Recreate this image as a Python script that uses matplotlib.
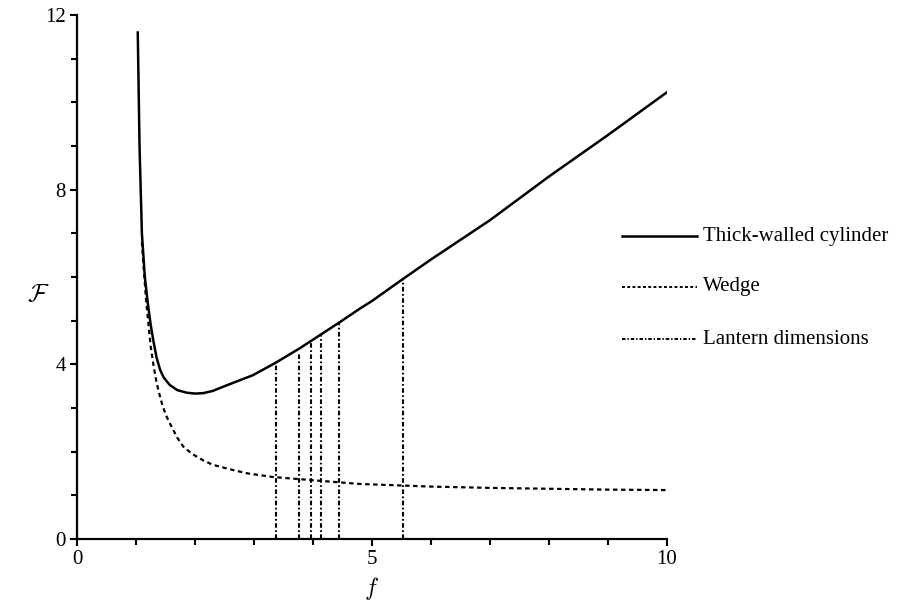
import numpy as np
import matplotlib
matplotlib.use("Agg")
import matplotlib.pyplot as plt
from matplotlib.ticker import MultipleLocator

plt.rcParams['font.family'] = ['Liberation Serif', 'DejaVu Serif']
plt.rcParams['mathtext.fontset'] = 'cm'

# Thick-walled cylinder curve
cyl_f = [1.03, 1.06, 1.10, 1.15, 1.20, 1.25, 1.30, 1.35, 1.41, 1.47, 1.57, 1.70,
         1.86, 2.00, 2.14, 2.30, 2.54, 2.75, 2.98, 3.36, 3.78, 4.12, 4.46, 4.80,
         5.0, 5.5, 6.0, 7.0, 8.0, 9.0, 10.0]
cyl_F = [11.6, 9.0, 7.0, 6.0, 5.4, 4.9, 4.5, 4.15, 3.87, 3.70, 3.53, 3.41,
         3.35, 3.33, 3.34, 3.39, 3.52, 3.63, 3.75, 4.03, 4.37, 4.67, 4.97, 5.28,
         5.45, 5.93, 6.4, 7.3, 8.3, 9.25, 10.23]

# Wedge curve
wedge_f = [1.10, 1.12, 1.17, 1.20, 1.25, 1.30, 1.35, 1.40, 1.45, 1.52, 1.60, 1.70,
           1.80, 1.95, 2.14, 2.30, 2.64, 2.90, 3.32, 3.95, 4.80,
           6.0, 7.0, 8.0, 9.0, 10.0]
wedge_F = [6.8, 6.4, 5.5, 5.08, 4.4, 3.95, 3.57, 3.3, 3.05, 2.8, 2.58, 2.32,
           2.12, 1.95, 1.8, 1.7, 1.58, 1.5, 1.42, 1.35, 1.26,
           1.2, 1.17, 1.15, 1.13, 1.12]

# Lantern dimensions (vertical lines up to the cylinder curve)
lantern_f = [3.37, 3.76, 3.96, 4.14, 4.45, 5.53]
lantern_F = [4.03, 4.28, 4.55, 4.69, 4.94, 5.93]

fig = plt.figure(figsize=(9.06, 6.02), dpi=100)
ax = fig.add_axes([0.085, 0.1047, 0.651, 0.8703])

ax.plot(cyl_f, cyl_F, color="black", lw=1.8, solid_joinstyle="round")
ax.plot(wedge_f, wedge_F, color="black", lw=1.6, linestyle=(0, (2.0, 1.6)))
for fx, Fy in zip(lantern_f, lantern_F):
    ax.plot([fx, fx], [0, Fy], color="black", lw=1.5,
            linestyle=(0, (2.2, 1.2, 0.8, 1.2)))

ax.set_xlim(0, 10)
ax.set_ylim(0, 12)
ax.spines["top"].set_visible(False)
ax.spines["right"].set_visible(False)
ax.spines["left"].set_linewidth(1.6)
ax.spines["bottom"].set_linewidth(1.6)
ax.set_xticks([0, 5, 10])
ax.set_yticks([0, 4, 8, 12])
ax.xaxis.set_minor_locator(MultipleLocator(1))
ax.yaxis.set_minor_locator(MultipleLocator(1))
ax.tick_params(which="both", direction="out", width=1.5, labelsize=15, pad=3)
ax.tick_params(which="major", length=5)
ax.tick_params(which="minor", length=4)

ax.set_xlabel(r"$f$", fontsize=17, labelpad=4)
ax.set_ylabel(r"$\mathcal{F}$", fontsize=18, rotation=0, va="center")
ax.yaxis.set_label_coords(-0.065, 0.465)

# Legend drawn in figure coordinates
legend_items = ["Thick-walled cylinder", "Wedge", "Lantern dimensions"]
styles = [dict(lw=1.8, linestyle="-"),
          dict(lw=1.4, linestyle=(0, (1.5, 1.2))),
          dict(lw=1.4, linestyle=(0, (1.8, 1.0, 0.7, 1.0)))]
ys = [236, 287, 339]
for label, st, ypix in zip(legend_items, styles, ys):
    yf = 1 - ypix / 602
    fig.add_artist(plt.Line2D([622 / 906, 697 / 906], [yf, yf], color="black", **st))
    fig.text(703 / 906, yf, label, fontsize=15, va="center", ha="left")

fig.savefig("out.png", dpi=100)
